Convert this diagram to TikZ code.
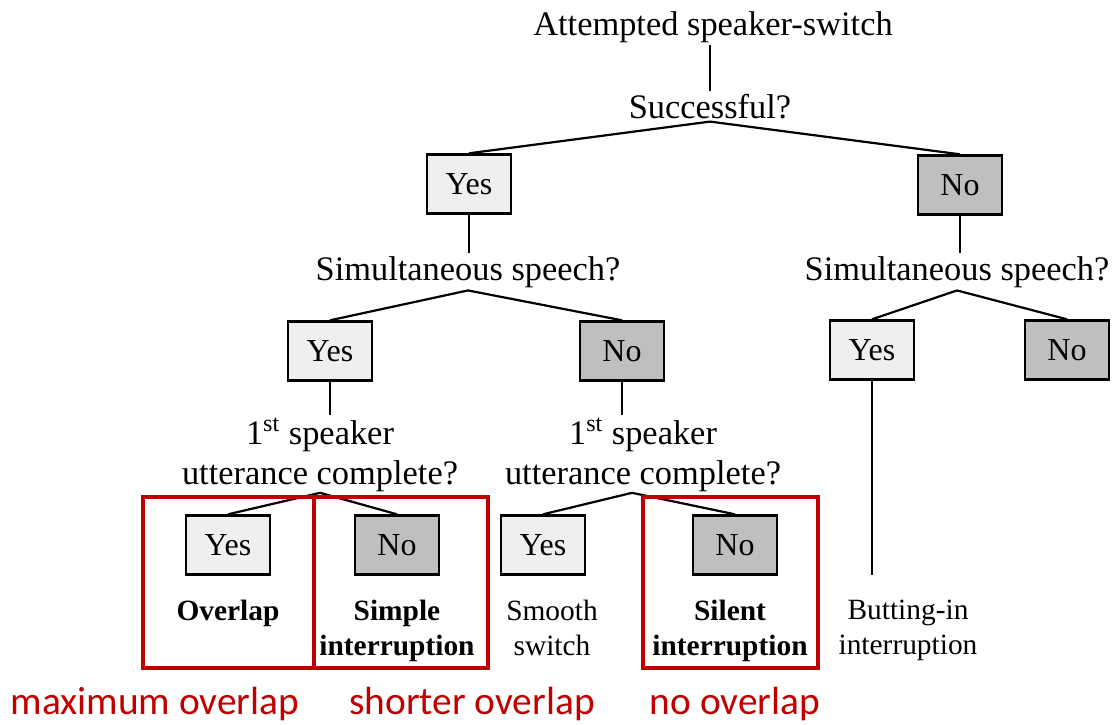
\documentclass[tikz,border=0pt]{standalone}
\usepackage{fontspec}
\setmainfont{Liberation Serif}
\newfontfamily\noteFont{Carlito}
\usepackage{xcolor}
\definecolor{colorYes}{HTML}{EFEFEF}
\definecolor{colorNo}{HTML}{BFBFBF}
\definecolor{colorMark}{HTML}{C00000}
\usetikzlibrary{positioning}
\tikzset{
  question/.style={align=center, inner sep=1pt, font=\fontsize{17.2}{20}\selectfont},
  answer/.style={draw, line width=1.2pt, minimum width=42pt, minimum height=29.5pt, inner sep=0pt, font=\fontsize{16}{18}\selectfont},
  answerYes/.style={answer, fill=colorYes},
  answerNo/.style={answer, fill=colorNo},
  outcome/.style={align=center, anchor=north, inner sep=0pt, font=\fontsize{14.7}{17.5}\selectfont},
  outcomeBold/.style={outcome, font=\fontsize{14.7}{17.5}\selectfont\bfseries},
  markBox/.style={draw=colorMark, line width=2.2pt},
  markNote/.style={anchor=base, text=colorMark, inner sep=0pt, font=\noteFont\fontsize{19.7}{22}\selectfont}
}

\begin{document}
\begin{tikzpicture}[x=0.5pt, y=-0.5pt, line width=1.1pt]
\useasboundingbox (0,0) rectangle (1118,724);
\node[question, anchor=base] (q0) at (713,35) {Attempted speaker-switch};
\node[question, anchor=base] (q1) at (710,118) {Successful?};
\node[answerYes] (q2) at (469,184) {Yes};
\node[answerNo] (q3) at (960,185) {No};
\node[question, anchor=base] (q4) at (468,280) {Simultaneous speech?};
\node[question, anchor=base] (q5) at (957,280) {Simultaneous speech?};
\node[answerYes] (q6) at (330,351) {Yes};
\node[answerNo] (q7) at (622,351) {No};
\node[answerYes] (q8) at (872,350) {Yes};
\node[answerNo] (q9) at (1067,350) {No};
\node[question] (q10) at (320,455) {1\textsuperscript{st} speaker\\utterance complete?};
\node[question] (q11) at (643,455) {1\textsuperscript{st} speaker\\utterance complete?};
\node[answerYes] (q12) at (228,545) {Yes};
\node[answerNo] (q13) at (397,545) {No};
\node[answerYes] (q14) at (543,545) {Yes};
\node[answerNo] (q15) at (735,545) {No};
\node[outcomeBold] (l0) at (228,599) {Overlap};
\node[outcomeBold] (l1) at (397,599) {Simple\\interruption};
\node[outcome] (l2) at (552,599) {Smooth\\switch};
\node[outcomeBold] (l3) at (730,599) {Silent\\interruption};
\node[outcome] (l4) at (908,599) {Butting-in\\interruption};
\coordinate (l4end) at (872,575);
\draw (q1.north |- q0.south) -- (q1.north);
\draw (q1.south) -- (q2.north);
\draw (q1.south) -- (q3.north);
\draw (q2.south) -- (q2.south |- q4.north);
\draw (q3.south) -- (q3.south |- q5.north);
\draw (q4.south) -- (q6.north);
\draw (q4.south) -- (q7.north);
\draw (q5.south) -- (q8.north);
\draw (q5.south) -- (q9.north);
\draw (q6.south) -- (q6.south |- q10.north);
\draw (q7.south) -- (q7.south |- q11.north);
\draw ([yshift=1pt]q10.south) -- (q12.north);
\draw ([yshift=1pt]q10.south) -- (q13.north);
\draw ([xshift=-5.5pt, yshift=1pt]q11.south) -- (q14.north);
\draw ([xshift=-5.5pt, yshift=1pt]q11.south) -- (q15.north);
\draw (q8.south) -- (l4end);
\draw[markBox] (143,497) rectangle (314,668);
\draw[markBox] (314,497) rectangle (488,668);
\draw[markBox] (643,497) rectangle (818,668);
\node[markNote] (n0) at (155,714) {maximum overlap};
\node[markNote] (n1) at (472,714) {shorter overlap};
\node[markNote] (n2) at (735,714) {no overlap};
\end{tikzpicture}
\end{document}
